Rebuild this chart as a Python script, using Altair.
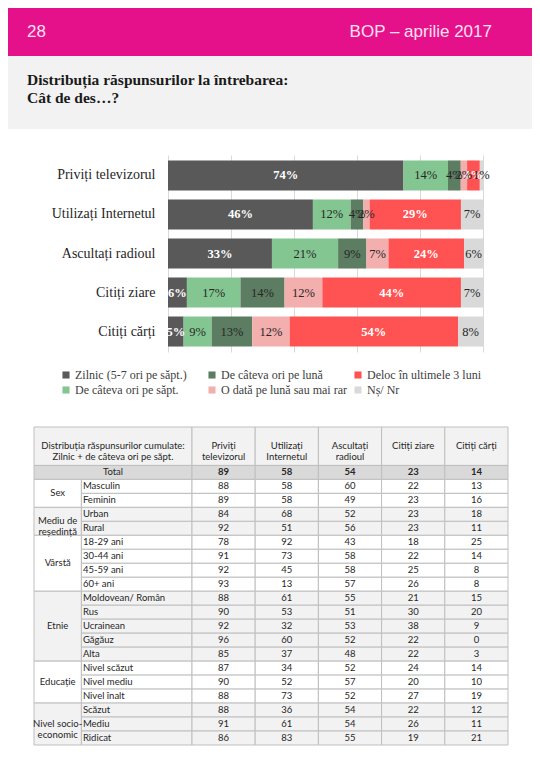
import altair as alt
import pandas as pd

# ---------------- data ----------------
page_no = "28"
page_tag = "BOP – aprilie 2017"
title_lines = ["Distribuția răspunsurilor la întrebarea:", "Cât de des…?"]

categories = ["Priviți televizorul", "Utilizați Internetul", "Ascultați radioul",
              "Citiți ziare", "Citiți cărți"]
answers = ["Zilnic (5-7 ori pe săpt.)", "De câteva ori pe săpt.", "De câteva ori pe lună",
           "O dată pe lună sau mai rar", "Deloc în ultimele 3 luni", "Nș/ Nr"]
zilnic = [74, 46, 33, 6, 5]
saptamanal = [14, 12, 21, 17, 9]
lunar = [4, 4, 9, 14, 13]
rar = [2, 2, 7, 12, 12]
deloc = [4, 29, 24, 44, 54]
nsnr = [1, 7, 6, 7, 8]
answer_colors = ["#595959", "#84C692", "#5C7D61", "#F3AEAE", "#FF5252", "#D9D9D9"]
light_label_answers = [answers[0], answers[4]]

table_header = "Distribuția răspunsurilor cumulate:\nZilnic + de câteva ori pe săpt."
table_cols = ["Priviți\ntelevizorul", "Utilizați\nInternetul", "Ascultați\nradioul",
              "Citiți ziare", "Citiți cărți"]
total_label = "Total"
group_names = ["Sex", "Mediu de\nreședință", "Vârstă", "Etnie", "Educație",
               "Nivel socio-\neconomic"]
group_rows = [
    ["Masculin", "Feminin"],
    ["Urban", "Rural"],
    ["18-29 ani", "30-44 ani", "45-59 ani", "60+ ani"],
    ["Moldovean/ Român", "Rus", "Ucrainean", "Găgăuz", "Alta"],
    ["Nivel scăzut", "Nivel mediu", "Nivel înalt"],
    ["Scăzut", "Mediu", "Ridicat"],
]
# first value of each list = Total row
col_tv = [89, 88, 89, 84, 92, 78, 91, 92, 93, 88, 90, 92, 96, 85, 87, 90, 88, 88, 91, 86]
col_net = [58, 58, 58, 68, 51, 92, 73, 45, 13, 61, 53, 32, 60, 37, 34, 52, 73, 36, 61, 83]
col_radio = [54, 60, 49, 52, 56, 43, 58, 58, 57, 55, 51, 53, 52, 48, 52, 57, 52, 54, 54, 55]
col_ziare = [23, 22, 23, 23, 23, 18, 22, 25, 26, 21, 30, 38, 22, 22, 24, 20, 27, 22, 26, 19]
col_carti = [14, 13, 16, 18, 11, 25, 14, 8, 8, 15, 20, 9, 0, 3, 14, 10, 19, 12, 11, 21]

# ---------------- style ----------------
MAGENTA = "#E5118B"
BAND = "#F2F2F2"
SERIF = "Liberation Serif"
SANS = "Liberation Sans"
TFONT = "Lato"
DARK = "#262626"
W = 524
NO_STROKE = dict(stroke="transparent", strokeWidth=0, strokeOpacity=0)

# ---------------- header panels ----------------
def text_layer(df, x, y, align, font, size, weight, color, line_height=None):
    kw = dict(align=align, baseline="alphabetic", font=font, fontSize=size,
              fontWeight=weight, color=color, lineBreak="\n")
    if line_height:
        kw["lineHeight"] = line_height
    return alt.Chart(df).mark_text(**kw).encode(
        x=alt.value(x), y=alt.value(y), text="t:N")

header = alt.layer(
    text_layer(pd.DataFrame({"t": [page_no]}), 19, 29, "left", SANS, 17, "normal", "#FBE0EF"),
    text_layer(pd.DataFrame({"t": [page_tag]}), 484, 29, "right", SANS, 17, "normal", "#FBE0EF"),
).properties(width=W, height=48, view=alt.ViewBackground(fill=MAGENTA, **NO_STROKE))

band = text_layer(pd.DataFrame({"t": ["\n".join(title_lines)]}), 19, 29, "left", SERIF, 15.5,
                  "bold", "#1A1A1A", line_height=18).properties(
    width=W, height=73, view=alt.ViewBackground(fill=BAND, **NO_STROKE))

# ---------------- stacked bars ----------------
series = [zilnic, saptamanal, lunar, rar, deloc, nsnr]
rows = []
for k, (ans, vals) in enumerate(zip(answers, series)):
    for c, v in zip(categories, vals):
        rows.append({"cat": c, "ans": ans, "k": k, "v": v, "lbl": f"{v}%",
                     "light": ans in light_label_answers})
bar_df = pd.DataFrame(rows)

base = alt.Chart(bar_df).transform_stack(
    stack="v", groupby=["cat"], as_=["v0", "v1"],
    sort=[alt.SortField("k", order="ascending")], offset="normalize"
).transform_calculate(mid="(datum.v0 + datum.v1) / 2")

BAR_LEFT, BAR_RIGHT = 160, 475
xs = alt.Scale(domain=[0, 1], range=[BAR_LEFT, BAR_RIGHT], nice=False, zero=False)
xaxis = alt.Axis(orient="top", values=[0, 0.2, 0.4, 0.6, 0.8, 1.0], grid=True,
                 gridColor="#D9D9D9", gridWidth=1, labels=False, ticks=False,
                 domain=True, domainOpacity=0, title=None, minExtent=26, maxExtent=26)
ys = alt.Scale(domain=categories, paddingInner=0.23, paddingOuter=0.14)
yaxis = alt.Axis(title=None, ticks=False, domain=False, labelPadding=13, labelFont=SERIF,
                 labelFontSize=14, labelColor=DARK, offset=-BAR_LEFT, labelLimit=300)
Y = alt.Y("cat:N", scale=ys, axis=yaxis, sort=categories)

bars = base.mark_bar().encode(
    x=alt.X("v0:Q", scale=xs, axis=xaxis), x2="v1:Q", y=Y,
    color=alt.Color("ans:N", scale=alt.Scale(domain=answers, range=answer_colors),
                    legend=alt.Legend(orient="none", legendX=52, legendY=214, columns=3,
                                      title=None, symbolType="square", symbolSize=50,
                                      symbolStrokeWidth=0, labelFont=SERIF,
                                      labelFontSize=12, labelColor="#404040",
                                      columnPadding=5, rowPadding=3, labelLimit=300,
                                      gridAlign="all", labelOffset=3)),
)
lbl_light = base.transform_filter("datum.light").mark_text(
    font=SERIF, fontSize=12.5, fontWeight="bold", color="white").encode(
    x=alt.X("mid:Q", scale=xs, axis=xaxis), y=Y, text="lbl:N")
lbl_dark = base.transform_filter("!datum.light").mark_text(
    font=SERIF, fontSize=12.5, color=DARK).encode(
    x=alt.X("mid:Q", scale=xs, axis=xaxis), y=Y, text="lbl:N")

bar_panel = alt.layer(bars, lbl_light, lbl_dark).properties(
    width=W, height=197, view=alt.ViewBackground(**NO_STROKE))

# ---------------- table ----------------
col_units = [3, 7, 4, 4, 4, 4, 4]
E = [0]
for u in col_units:
    E.append(E[-1] + u)
H = 2.75
HEAD_BG, TOTAL_BG = "#F2F2F2", "#D9D9D9"
group_bg = ["#FFFFFF", "#F2F2F2", "#FFFFFF", "#F2F2F2", "#FFFFFF", "#F2F2F2"]
values_by_col = [col_tv, col_net, col_radio, col_ziare, col_carti]

cells, texts = [], []
def cell(x0, x1, y0, y1, bg):
    cells.append(dict(x0=x0, x1=x1, y0=y0, y1=y1, bg=bg))
def txt(x, y, t, kind):
    texts.append(dict(x=x, y=y, t=t, kind=kind))

cell(E[0], E[2], 0, H, HEAD_BG)
txt((E[0] + E[2]) / 2, H / 2, table_header, "c")
for j, name in enumerate(table_cols):
    cell(E[2 + j], E[3 + j], 0, H, HEAD_BG)
    txt((E[2 + j] + E[3 + j]) / 2, H / 2, name, "c")

cell(E[0], E[2], H, H + 1, TOTAL_BG)
txt((E[0] + E[2]) / 2, H + 0.5, total_label, "c")
for j, vals in enumerate(values_by_col):
    cell(E[2 + j], E[3 + j], H, H + 1, TOTAL_BG)
    txt((E[2 + j] + E[3 + j]) / 2, H + 0.5, str(vals[0]), "b")

r = 1
for g, (gname, subs) in enumerate(zip(group_names, group_rows)):
    bg = group_bg[g]
    y0 = H + r
    cell(E[0], E[1], y0, y0 + len(subs), bg)
    txt((E[0] + E[1]) / 2, y0 + len(subs) / 2, gname, "c")
    for s, sub in enumerate(subs):
        yy = H + r + s
        cell(E[1], E[2], yy, yy + 1, bg)
        txt(E[1], yy + 0.5, sub, "l")
        for j, vals in enumerate(values_by_col):
            cell(E[2 + j], E[3 + j], yy, yy + 1, bg)
            txt((E[2 + j] + E[3 + j]) / 2, yy + 0.5, str(vals[r + s]), "c")
    r += len(subs)
n_rows = r
cells_df = pd.DataFrame(cells)
texts_df = pd.DataFrame(texts)

GAP = 31
txs = alt.Scale(domain=[0, E[-1]], range=[26, 500], nice=False, zero=False)
tys = alt.Scale(domain=[0, H + n_rows], range=[GAP, GAP + 318], nice=False, zero=False)

t_cells = alt.Chart(cells_df).mark_rect(stroke="#BFBFBF", strokeWidth=1).encode(
    x=alt.X("x0:Q", scale=txs, axis=None), x2="x1:Q",
    y=alt.Y("y0:Q", scale=tys, axis=None), y2="y1:Q",
    fill=alt.Fill("bg:N", scale=None))

def t_text(kind, align, weight, dx=0):
    return alt.Chart(texts_df).transform_filter(f"datum.kind == '{kind}'").mark_text(
        align=align, baseline="middle", font=TFONT, fontSize=9.5, fontWeight=weight,
        color=DARK, lineBreak="\n", lineHeight=11, dx=dx).encode(
        x=alt.X("x:Q", scale=txs, axis=None), y=alt.Y("y:Q", scale=tys, axis=None),
        text="t:N")

table = alt.layer(t_cells, t_text("c", "center", "normal"), t_text("b", "center", "bold"),
                  t_text("l", "left", "normal", dx=1.5)).properties(
    width=W, height=GAP + 318, view=alt.ViewBackground(**NO_STROKE))

chart = alt.vconcat(header, band, bar_panel, table, spacing=0).resolve_legend(
    color="independent").resolve_scale(color="independent").properties(
    padding=0).configure_view(**NO_STROKE).configure(background="white")

chart.save("out.html", embed_options={"renderer": "svg", "actions": False})
